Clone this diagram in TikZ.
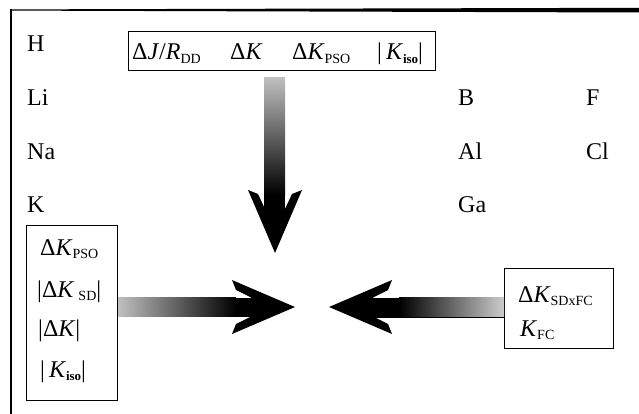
\documentclass[tikz,border=0pt]{standalone}
\usepackage{fontspec}
\setmainfont{Liberation Serif}
\newcommand{\sbx}[1]{\raisebox{-3.5pt}{\fontsize{14}{14}\selectfont #1}}
\newcommand{\sbiso}{\raisebox{-3.5pt}{\fontsize{13}{13}\selectfont\bfseries iso}}
\begin{document}
\begin{tikzpicture}[x=1pt,y=-1pt,
  lbl/.style={inner sep=0pt, anchor=base west, font=\fontsize{24}{28}\selectfont},
  boxst/.style={draw, line width=1.2pt, inner sep=0pt, anchor=north west},
  headst/.style={fill=black}]
\useasboundingbox (0,0) rectangle (639,414);
% frame
\fill (11,9.4) -- (639,7.8) -- (639,12.5) -- (11,10.6) -- cycle;
\draw[line width=1.5pt] (11,9.5) -- (11,414);
% element labels
\node[lbl] (H)  at (27,52)  {H};
\node[lbl] (Li) at (27,106) {Li};
\node[lbl] (Na) at (27,160) {Na};
\node[lbl] (K)  at (27,212) {K};
\node[lbl] (B)  at (458,106) {B};
\node[lbl] (F)  at (586,106) {F};
\node[lbl] (Al) at (458,160) {Al};
\node[lbl] (Cl) at (586,160) {Cl};
\node[lbl] (Ga) at (458,212) {Ga};
% boxes
\node[boxst, minimum width=307pt, minimum height=39pt] (topbox) at (128,31) {};
\node[boxst, minimum width=91pt, minimum height=175pt] (lbox) at (26,225) {};
\node[boxst, minimum width=109pt, minimum height=80pt] (rbox) at (504,268) {};
% top box texts
\node[lbl] (t1) at (132,60) {Δ\textit{J}/\textit{R}\sbx{DD}};
\node[lbl] (t2) at (230,60) {Δ\textit{K}};
\node[lbl] (t3) at (292,60) {Δ\textit{K}\sbx{PSO}};
\node[lbl] (t4) at (377,60) {|\,\textit{K}\sbiso|};
% left box texts
\node[lbl] (l1) at (40,255) {Δ\textit{K}\sbx{PSO}};
\node[lbl] (l2) at (37,297) {|Δ\textit{K}\,\sbx{SD}|};
\node[lbl] (l3) at (38,336) {|Δ\textit{K}|};
\node[lbl] (l4) at (40,377) {|\,\textit{K}\sbiso|};
% right box texts
\node[lbl] (r1) at (518,302) {Δ\textit{K}\sbx{SDxFC}};
\node[lbl] (r2) at (520,336) {\textit{K}\sbx{FC}};
% arrow tips
\coordinate (tipD) at (275,253);
\coordinate (tipL) at (295,307);
\coordinate (tipR) at (329,307);
% down arrow
\shade[top color=black!25, bottom color=black] (264,78) rectangle (285,195);
\fill (264,194) rectangle (285,210);
\fill[headst] (tipD) -- (248,190) -- (258,194) -- (265,209) -- (285,209) -- (292,194) -- (302,190) -- cycle;
% left arrow
\shade[left color=black!25, right color=black] (lbox.east |- 0,297.5) rectangle (236,316.5);
\fill (235,297.5) rectangle (252,316.5);
\fill[headst] (tipL) -- (232,280) -- (236,290) -- (251,297.5) -- (251,316.5) -- (236,324) -- (232,334) -- cycle;
% right arrow
\shade[left color=black, right color=black!20] (399,297.5) rectangle (rbox.west |- 0,316.5);
\fill (373,297.5) rectangle (400,316.5);
\draw[line width=0.8pt] (373,317) -- (rbox.west |- 0,317);
\fill[headst] (tipR) -- (392,280) -- (388,290) -- (373,297.5) -- (373,316.5) -- (388,324) -- (392,334) -- cycle;
\end{tikzpicture}
\end{document}
